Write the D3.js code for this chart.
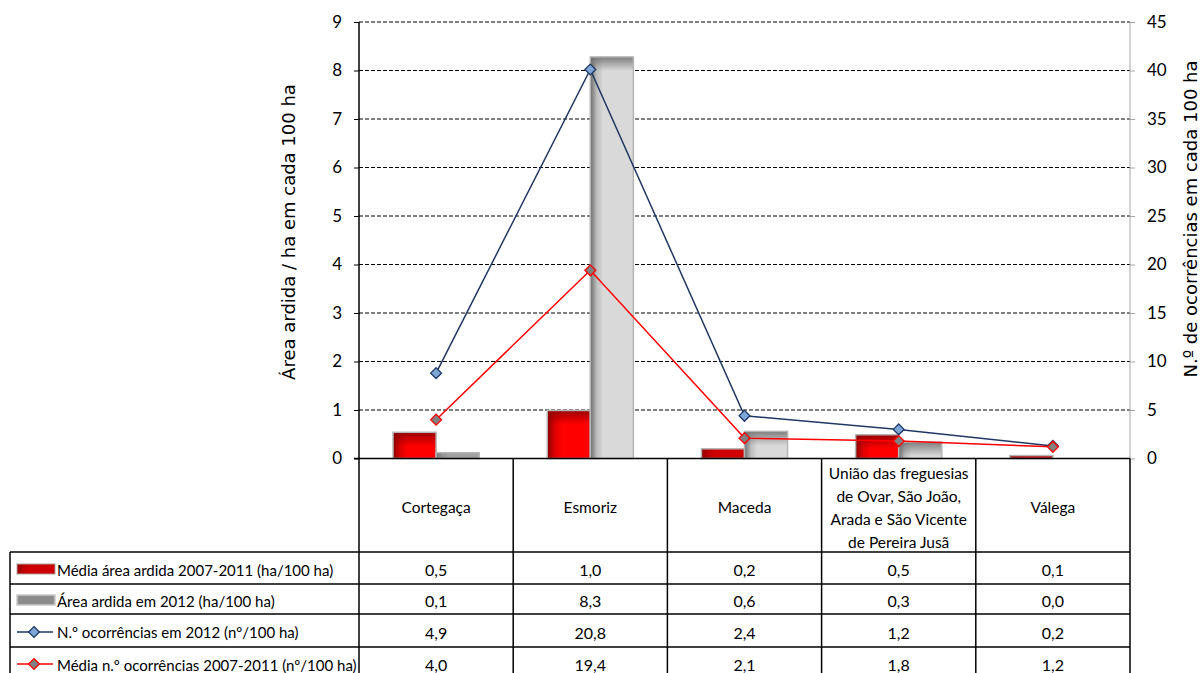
<!DOCTYPE html>
<html><head><meta charset="utf-8">
<script src="https://cdn.jsdelivr.net/npm/d3@7"></script>
<style>
body{margin:0;background:#fff;}
svg{display:block;}
.cal{font-family:Lato,"Liberation Sans",sans-serif;}
</style></head>
<body><svg id="c" width="1204" height="673"></svg>
<script>
// ---- data ----
const categories = ["Cortegaça","Esmoriz","Maceda","União das freguesias de Ovar, São João, Arada e São Vicente de Pereira Jusã","Válega"];
const categoryLines = [["Cortegaça"],["Esmoriz"],["Maceda"],["União das freguesias","de Ovar, São João,","Arada e São Vicente","de Pereira Jusã"],["Válega"]];
const mediaArea = [0.54, 0.99, 0.20, 0.49, 0.06];        // left axis (bars)
const area2012 = [0.12, 8.28, 0.56, 0.34, 0.0];           // left axis (bars)
const occ2012Plotted = [8.8, 40.1, 4.4, 3.0, 1.3];        // right axis (line as drawn)
const occ2012Table = ["4,9","20,8","2,4","1,2","0,2"];    // table labels as printed
const mediaOcc = [4.0, 19.4, 2.1, 1.8, 1.2];              // right axis (line)
const leftTicks = [0,1,2,3,4,5,6,7,8,9];
const rightTicks = [0,5,10,15,20,25,30,35,40,45];
const seriesNames = ["Média área ardida 2007-2011 (ha/100 ha)","Área ardida em 2012 (ha/100 ha)","N.º ocorrências em 2012 (nº/100 ha)","Média n.º ocorrências 2007-2011 (nº/100 ha)"];
const leftTitle = "Área ardida / ha em cada 100 ha";
const rightTitle = "N.º de ocorrências em cada  100 ha";

const fmt = v => v.toFixed(1).replace(".", ",");

// ---- layout ----
const svg = d3.select("#c");
const L = 359, R = 1130, T = 22, B = 458.5;
const tableLeft = 10;
const rowEdges = [B, 552, 584, 614, 647, 679];

const x0 = d3.scaleBand().domain(categories).range([L, R]).padding(0);
const x1 = d3.scaleBand().domain(["a","b"]).range([0, x0.bandwidth()]).paddingInner(0).paddingOuter(0.79);
const yL = d3.scaleLinear().domain([0, 9]).range([B, T]);
const yR = d3.scaleLinear().domain([0, 45]).range([B, T]);

const defs = svg.append("defs");
function hgrad(id, stops){
  const g = defs.append("linearGradient").attr("id", id).attr("x1","0").attr("x2","1").attr("y1","0").attr("y2","0");
  stops.forEach(s => g.append("stop").attr("offset", s[0]).attr("stop-color", s[1]));
}
function vgrad(id, col){
  const g = defs.append("linearGradient").attr("id", id).attr("x1","0").attr("x2","0").attr("y1","0").attr("y2","1");
  g.append("stop").attr("offset",0).attr("stop-color",col).attr("stop-opacity",1);
  g.append("stop").attr("offset",1).attr("stop-color",col).attr("stop-opacity",0);
}
hgrad("redH", [[0,"#8a0000"],[0.18,"#e00000"],[0.35,"#ff0000"],[1,"#ff0000"]]);
hgrad("grayH", [[0,"#6a6a6a"],[0.15,"#bdbdbd"],[0.3,"#d9d9d9"],[1,"#d9d9d9"]]);
vgrad("redV", "#8a0000");
vgrad("grayV", "#6e6e6e");
const darkOf = {redV: "#a00000", grayV: "#7a7a7a"};

// gridlines
svg.append("g").selectAll("line").data(leftTicks.filter(d => d > 0)).join("line")
  .attr("x1", L).attr("x2", R).attr("y1", d => yL(d)).attr("y2", d => yL(d))
  .attr("stroke", "#000").attr("stroke-width", 1).attr("stroke-dasharray", "4,2");

// axes
const axL = svg.append("g").attr("transform", `translate(${L},0)`)
  .call(d3.axisLeft(yL).tickValues(leftTicks).tickSize(5).tickPadding(12).tickFormat(d3.format("d")));
axL.select(".domain").remove();
axL.selectAll("line").attr("stroke", "#000");
axL.selectAll("text").attr("class","cal").style("font-size","17px").attr("fill","#000");

const axR = svg.append("g").attr("transform", `translate(${R},0)`)
  .call(d3.axisRight(yR).tickValues(rightTicks).tickSize(5).tickPadding(12).tickFormat(d3.format("d")));
axR.select(".domain").attr("stroke", "#a6a6a6").attr("d", `M0,${T}V${B}`);
axR.selectAll("line").attr("stroke", "#a6a6a6");
axR.selectAll("text").attr("class","cal").style("font-size","17px").attr("fill","#000");

// bars
function drawBars(vals, key, fillH, fillV){
  const g = svg.append("g");
  vals.forEach((v, i) => {
    const x = x0(categories[i]) + x1(key), w = x1.bandwidth();
    const y = yL(v), h = yL(0) - yL(v);
    if (h < 0.5) return;
    g.append("rect").attr("x", x).attr("y", y).attr("width", w).attr("height", h)
      .attr("fill", `url(#${fillH})`);
    if (h >= 14) {
      g.append("rect").attr("x", x).attr("y", y).attr("width", w).attr("height", 14)
        .attr("fill", `url(#${fillV})`).attr("opacity", 0.85);
    } else {
      g.append("rect").attr("x", x).attr("y", y).attr("width", w).attr("height", h)
        .attr("fill", darkOf[fillV]).attr("opacity", 0.75 * (1 - h / 28));
    }
    g.append("rect").attr("x", x).attr("y", y).attr("width", w).attr("height", h)
      .attr("fill", "none").attr("stroke", "#b5b5b5").attr("stroke-width", 1.5);
  });
}
drawBars(mediaArea, "a", "redH", "redV");
drawBars(area2012, "b", "grayH", "grayV");

// lines
const cx = i => x0(categories[i]) + x0.bandwidth() / 2;
const diamond = d3.symbol().type(d3.symbolDiamond2).size(75);
function drawLine(vals, stroke, mfill, mstroke, sw){
  const line = d3.line().x((d, i) => cx(i)).y(d => yR(d));
  svg.append("path").datum(vals).attr("d", line).attr("fill", "none").attr("stroke", stroke).attr("stroke-width", sw);
  svg.append("g").selectAll("path").data(vals).join("path")
    .attr("d", diamond).attr("transform", (d, i) => `translate(${cx(i)},${yR(d)})`)
    .attr("fill", mfill).attr("stroke", mstroke).attr("stroke-width", 1.3);
}
drawLine(occ2012Plotted, "#1f3864", "#7ea7d8", "#1f3864", 1.5);
drawLine(mediaOcc, "#ff0000", "#808080", "#ff0000", 1.5);

// x-axis baseline
svg.append("line").attr("x1", L - 5).attr("x2", R).attr("y1", B).attr("y2", B).attr("stroke", "#000").attr("stroke-width", 1.5);
// left axis line (down through table)
svg.append("line").attr("x1", L).attr("x2", L).attr("y1", T).attr("y2", 673).attr("stroke", "#000").attr("stroke-width", 1.5);

// ---- data table ----
const tg = svg.append("g");
rowEdges.slice(1).forEach(y => {
  tg.append("line").attr("x1", tableLeft).attr("x2", R).attr("y1", y).attr("y2", y).attr("stroke", "#000").attr("stroke-width", 1.5);
});
categories.forEach((c, i) => {
  const xr = x0(c) + x0.bandwidth();
  tg.append("line").attr("x1", xr).attr("x2", xr).attr("y1", B).attr("y2", 673).attr("stroke", "#000").attr("stroke-width", 1.5);
});
tg.append("line").attr("x1", tableLeft).attr("x2", tableLeft).attr("y1", rowEdges[1]).attr("y2", 673).attr("stroke", "#000").attr("stroke-width", 1.5);

// category headers
categoryLines.forEach((lines, i) => {
  const n = lines.length, lh = 23, cy = (rowEdges[0] + rowEdges[1]) / 2 + 2;
  lines.forEach((t, j) => {
    tg.append("text").attr("class","cal").attr("x", cx(i)).attr("y", cy + (j - (n - 1) / 2) * lh)
      .attr("text-anchor","middle").attr("dominant-baseline","central").style("font-size","15.5px").text(t);
  });
});

// table values
const tableRows = [mediaArea.map(fmt), area2012.map(fmt), occ2012Table, mediaOcc.map(fmt)];
tableRows.forEach((row, r) => {
  const cy = (rowEdges[r + 1] + rowEdges[r + 2]) / 2 + 1.5;
  row.forEach((t, i) => {
    tg.append("text").attr("class","cal").attr("x", cx(i)).attr("y", cy)
      .attr("text-anchor","middle").attr("dominant-baseline","central").style("font-size","16px").text(t);
  });
  tg.append("text").attr("class","cal").attr("x", 57).attr("y", cy)
    .attr("dominant-baseline","central").style("font-size","15px").text(seriesNames[r]);
});

// legend keys
const k0 = (rowEdges[1] + rowEdges[2]) / 2 + 1, k1 = (rowEdges[2] + rowEdges[3]) / 2 + 1;
tg.append("rect").attr("x", 17).attr("y", k0 - 5).attr("width", 38).attr("height", 10).attr("fill", "url(#redH)").attr("stroke", "#c8c8c8").attr("stroke-width", 1.5);
tg.append("rect").attr("x", 17).attr("y", k0 - 5).attr("width", 38).attr("height", 10).attr("fill", "#a00000").attr("opacity", 0.5);
tg.append("rect").attr("x", 17).attr("y", k1 - 5).attr("width", 38).attr("height", 10).attr("fill", "#8c8c8c").attr("stroke", "#c8c8c8").attr("stroke-width", 1.5);
const k2 = (rowEdges[3] + rowEdges[4]) / 2 + 1.5, k3 = (rowEdges[4] + rowEdges[5]) / 2 + 1;
tg.append("line").attr("x1", 17).attr("x2", 53).attr("y1", k2).attr("y2", k2).attr("stroke", "#1f3864").attr("stroke-width", 1.5);
tg.append("path").attr("d", diamond).attr("transform", `translate(34,${k2})`).attr("fill", "#7ea7d8").attr("stroke", "#1f3864").attr("stroke-width", 1.3);
tg.append("line").attr("x1", 17).attr("x2", 53).attr("y1", k3).attr("y2", k3).attr("stroke", "#ff0000").attr("stroke-width", 1.5);
tg.append("path").attr("d", diamond).attr("transform", `translate(34,${k3})`).attr("fill", "#808080").attr("stroke", "#ff0000").attr("stroke-width", 1.3);

// axis titles
svg.append("text").attr("transform", "translate(288,232) rotate(-90)").attr("text-anchor","middle").attr("dominant-baseline","central")
  .style("font-family","'DejaVu Sans',Verdana,sans-serif").style("font-size","18px").text(leftTitle);
svg.append("text").attr("transform", "translate(1190,219) rotate(-90)").attr("text-anchor","middle").attr("dominant-baseline","central")
  .style("font-family","'DejaVu Sans',Verdana,sans-serif").style("font-size","18px").text(rightTitle);
</script></body></html>
